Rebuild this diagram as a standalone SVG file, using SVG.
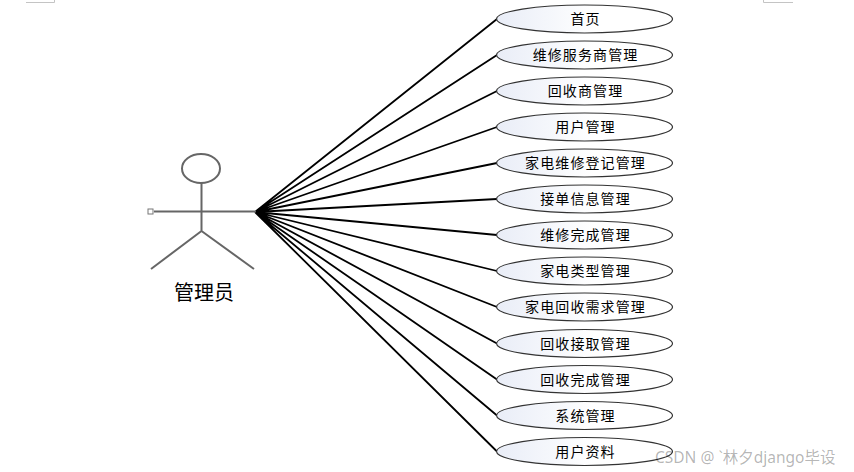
<svg xmlns="http://www.w3.org/2000/svg" width="854" height="472" viewBox="0 0 854 472">
<style>
.uc{fill:url(#g);stroke:#333;stroke-width:1.2}
.t{font-family:"Noto Sans CJK SC","Liberation Sans",sans-serif;font-size:14px;fill:#000;text-anchor:middle;letter-spacing:1.1px}
.c{stroke:#000;stroke-width:1.8;fill:none}
.a{stroke:#666;stroke-width:2;fill:none}
.m{stroke:#c4c4c4;stroke-width:1;fill:none}
</style>
<defs><linearGradient id="g" x1="0" x2="1" y1="0" y2="0"><stop offset="0" stop-color="#e9edf7"/><stop offset=".55" stop-color="#fff"/></linearGradient></defs>
<rect width="854" height="472" fill="#fff"/>
<path class="m" d="M26 2.500H54.500V0M793 2.500H763.500V0"/>
<g id="connectors">
<path class="c" d="M255 212L497 19M255 212L497 55M255 212L497 91M255 212L497 127M255 212L497 163M255 212L497 199M255 212L497 235M255 212L497 271M255 212L497 307M255 212L497 343.500M255 212L497 379.500M255 212L497 415.500M255 212L497 451.500"/>
</g>
<g id="actor">
<ellipse class="a" cx="201" cy="168.500" rx="19" ry="14.500"/>
<path class="a" d="M201.500 183V231M154 211.500H256M201.500 231L151 269M201.500 231L254 269"/>
<rect x="148" y="209" width="5" height="5" fill="#fff" stroke="#777"/>
<text x="204" y="300" style="font-family:'Noto Sans CJK SC',sans-serif;font-size:20px;text-anchor:middle">管理员</text>
</g>
<g id="n1"><ellipse class="uc" cx="584.500" cy="19" rx="88" ry="14"/><text class="t" x="585.500" y="24">首页</text></g>
<g id="n2"><ellipse class="uc" cx="584.500" cy="55" rx="88" ry="14"/><text class="t" x="585.500" y="60">维修服务商管理</text></g>
<g id="n3"><ellipse class="uc" cx="584.500" cy="91" rx="88" ry="14"/><text class="t" x="585.500" y="96">回收商管理</text></g>
<g id="n4"><ellipse class="uc" cx="584.500" cy="127" rx="88" ry="14"/><text class="t" x="585.500" y="132">用户管理</text></g>
<g id="n5"><ellipse class="uc" cx="584.500" cy="163" rx="88" ry="14"/><text class="t" x="585.500" y="168">家电维修登记管理</text></g>
<g id="n6"><ellipse class="uc" cx="584.500" cy="199" rx="88" ry="14"/><text class="t" x="585.500" y="204">接单信息管理</text></g>
<g id="n7"><ellipse class="uc" cx="584.500" cy="235" rx="88" ry="14"/><text class="t" x="585.500" y="240">维修完成管理</text></g>
<g id="n8"><ellipse class="uc" cx="584.500" cy="271" rx="88" ry="14"/><text class="t" x="585.500" y="276">家电类型管理</text></g>
<g id="n9"><ellipse class="uc" cx="584.500" cy="307" rx="88" ry="14"/><text class="t" x="585.500" y="312">家电回收需求管理</text></g>
<g id="n10"><ellipse class="uc" cx="584.500" cy="343.500" rx="88" ry="14"/><text class="t" x="585.500" y="349">回收接取管理</text></g>
<g id="n11"><ellipse class="uc" cx="584.500" cy="379.500" rx="88" ry="14"/><text class="t" x="585.500" y="385">回收完成管理</text></g>
<g id="n12"><ellipse class="uc" cx="584.500" cy="415.500" rx="88" ry="14"/><text class="t" x="585.500" y="421">系统管理</text></g>
<g id="n13"><ellipse class="uc" cx="584.500" cy="451.500" rx="88" ry="14"/><text class="t" x="585.500" y="457">用户资料</text></g>
<text x="655" y="463" style="font-family:'Noto Sans','Noto Sans CJK SC',sans-serif;font-size:15.500px;fill:#000;fill-opacity:.3">CSDN @ ˋ林夕django毕设</text>
</svg>
